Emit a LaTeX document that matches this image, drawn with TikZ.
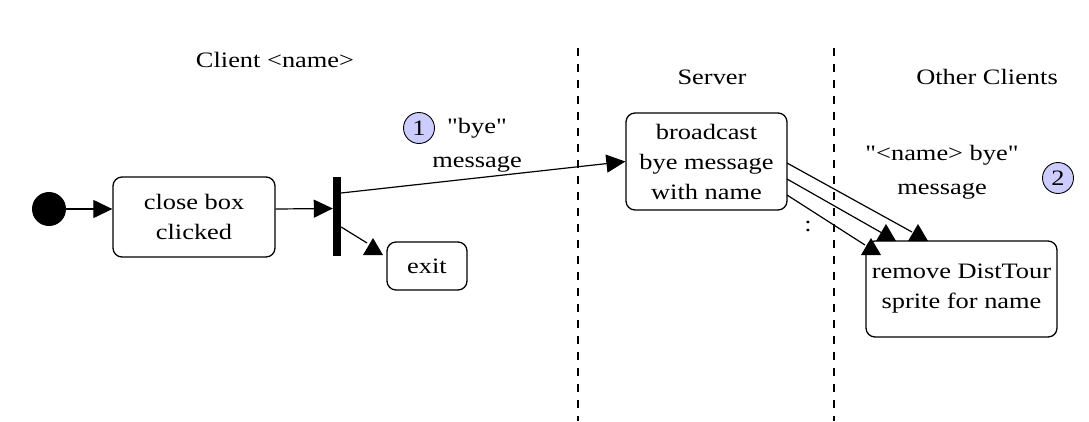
\documentclass[tikz,border=0pt]{standalone}
\usepackage{fontspec}
\setmainfont{Liberation Serif}[FakeStretch=1.2]
\newfontfamily\qf{Liberation Serif}[FakeStretch=1.2]
\usetikzlibrary{arrows.meta,calc}
\definecolor{lav}{RGB}{204,204,255}
\newcommand\uptri[1]{\fill ($(#1)+(-10,0)$) -- ($(#1)+(10,0)$) -- ($(#1)+(0,-17)$) -- cycle;}
\newcommand\dq{{\qf\symbol{"22}}}
\begin{document}
\begin{tikzpicture}[x=1pt,y=-1pt,
  every node/.style={font=\fontsize{22}{30}\selectfont},
  actbox/.style={draw, line width=1.3pt, rounded corners=9pt, align=center, inner sep=0pt},
  lbl/.style={align=center, inner sep=0pt, font=\fontsize{22}{34}\selectfont},
  head/.style={inner sep=0pt},
  conn/.style={line width=1.2pt},
  arr/.style={line width=1.2pt, -{Triangle[length=19pt,width=18pt]}},
  lane/.style={line width=1.8pt, dash pattern=on 8pt off 8pt},
  num/.style={circle, draw, line width=0.9pt, fill=lav, minimum size=31pt, inner sep=0pt}]
\useasboundingbox[fill=white] (0,0) rectangle (1089,421);

% swimlane separators
\coordinate (l1t) at (578,48); \coordinate (l1b) at (578,421);
\coordinate (l2t) at (834,48); \coordinate (l2b) at (834,421);
\draw[lane] (l1t) -- (l1b);
\draw[lane] (l2t) -- (l2b);

% headings
\node[head] (hclient) at (275,60) {Client <name>};
\node[head] (hserver) at (712,77) {Server};
\node[head] (hother) at (987,77) {Other Clients};

% nodes
\node[circle, fill, minimum size=34pt, inner sep=0pt] (start) at (49,209) {};
\node[actbox, minimum width=162pt, minimum height=80pt] (close) at (194,217) {close box\\clicked};
\node[fill, minimum width=8pt, minimum height=79pt, inner sep=0pt] (fork) at (337,216.5) {};
\node[actbox, minimum width=80pt, minimum height=48pt] (exit) at (427,266) {exit};
\node[actbox, minimum width=161pt, minimum height=97pt] (bc) at (706.5,161.5) {broadcast\\bye message\\with name};
\node[actbox, minimum width=191pt, minimum height=96pt] (rm) at (961.5,289) {remove DistTour\\sprite for name};

% labels
\node[num] (n1) at (419,128) {1};
\node[lbl] (lab1) at (477,145) {\dq bye\dq\\message};
\node[num] (n2) at (1058,178) {2};
\node[lbl] (lab2) at (942,172) {\dq<name> bye\dq\\message};
\node[inner sep=0pt] (dots) at (808,226) {:};

% connectors
\draw[arr] (start) -- (start -| close.west);
\draw[arr] ([yshift=8pt]close.east) -- ([yshift=8pt]fork.west);
\draw[arr] ([yshift=23.5pt]fork.east) -- (bc.west);

\coordinate (ex) at (367,243);
\coordinate (exT) at (373,255);
\draw[conn] ([yshift=-10.5pt]fork.east) -- (ex);
\uptri{exT}

\coordinate (b1) at (787,163); \coordinate (e1) at (912,232); \coordinate (T1) at (918,241);
\coordinate (b2) at (787,179); \coordinate (e2) at (882,233); \coordinate (T2) at (886,241);
\coordinate (b3) at (787,195); \coordinate (e3) at (865,245); \coordinate (T3) at (871,255);
\draw[conn] (b1) -- (e1); \uptri{T1}
\draw[conn] (b2) -- (e2); \uptri{T2}
\draw[conn] (b3) -- (e3); \uptri{T3}
\end{tikzpicture}
\end{document}
